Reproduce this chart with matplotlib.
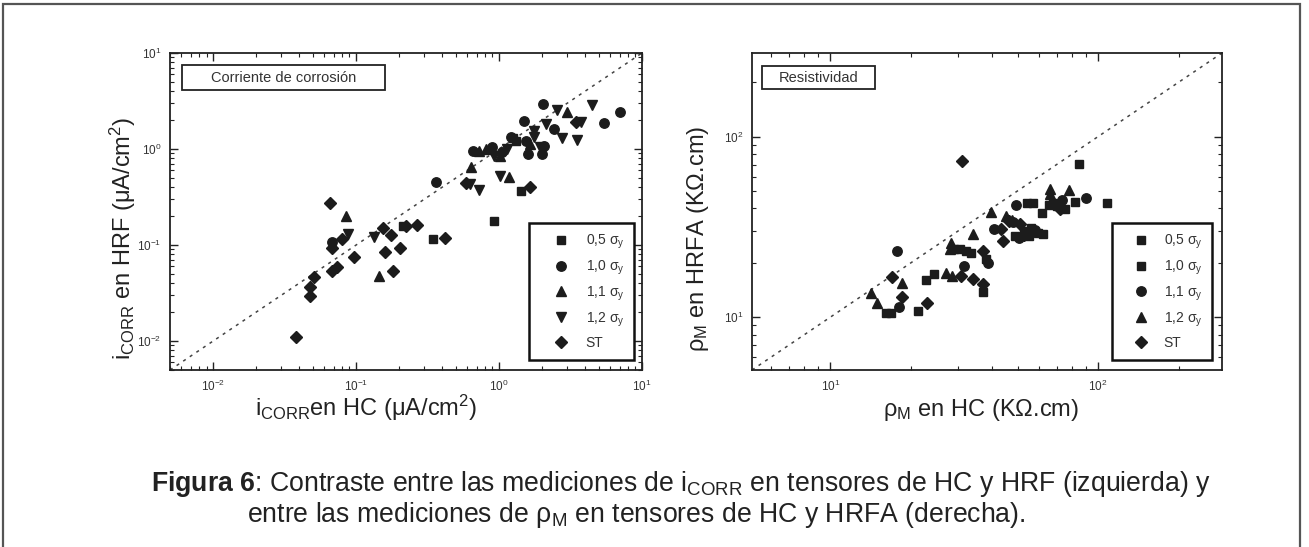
import matplotlib
matplotlib.use('Agg')
import matplotlib.pyplot as plt
from matplotlib.patches import Rectangle
from matplotlib.ticker import LogLocator, LogFormatterSciNotation, NullFormatter

plt.rcParams['font.family'] = ['Liberation Sans', 'DejaVu Sans']
plt.rcParams['mathtext.fontset'] = 'custom'
plt.rcParams['mathtext.rm'] = 'Liberation Sans'
plt.rcParams['mathtext.it'] = 'Liberation Sans:italic'
plt.rcParams['mathtext.bf'] = 'Liberation Sans:bold'

# ---------------- Left panel data: corrosion current (uA/cm2) ----------------
left_labels = ["0,5 σ$_{\\rm y}$", "1,0 σ$_{\\rm y}$", "1,1 σ$_{\\rm y}$", "1,2 σ$_{\\rm y}$", "ST"]
left_markers = ['s', 'o', '^', 'v', 'D']

l05_x = [0.212, 0.343, 0.923, 1.306, 1.416, 1.25]
l05_y = [0.158, 0.1146, 0.178, 1.222, 0.367, 1.30]

l10_x = [0.068, 0.361, 0.662, 0.898, 1.055, 1.206, 1.493, 1.535, 1.60, 2.0, 2.06, 2.04, 2.44, 5.40, 7.07]
l10_y = [0.107, 0.456, 0.961, 1.06, 0.923, 1.324, 1.977, 1.22, 0.887, 0.887, 1.083, 2.95, 1.62, 1.85, 2.42]

l11_x = [0.085, 0.1455, 0.641, 0.724, 0.807, 1.016, 1.175, 1.66, 3.0]
l11_y = [0.201, 0.0474, 0.654, 0.96, 1.0, 0.852, 0.506, 1.128, 2.42]

l12_x = [0.0885, 0.134, 0.628, 0.724, 0.923, 1.016, 1.143, 1.75, 1.75, 1.95, 2.12, 2.55, 2.76, 3.72, 3.52, 4.48]
l12_y = [0.131, 0.121, 0.43, 0.373, 0.852, 0.526, 1.0, 1.324, 1.555, 1.04, 1.825, 2.52, 1.30, 1.90, 1.24, 2.84]

lst_x = [0.0378, 0.048, 0.048, 0.0512, 0.0662, 0.068, 0.068, 0.0735, 0.0794, 0.0973, 0.155, 0.159,
         0.175, 0.182, 0.202, 0.267, 0.420, 0.585, 1.635, 3.43, 0.225]
lst_y = [0.0109, 0.0293, 0.0367, 0.0467, 0.277, 0.094, 0.0543, 0.0589, 0.1146, 0.075, 0.152, 0.085,
         0.126, 0.0535, 0.094, 0.161, 0.119, 0.438, 0.407, 1.90, 0.158]

left_lim = [0.005, 10]

# ---------------- Right panel data: resistivity (KOhm.cm) ----------------
right_labels = ["0,5 σ$_{\\rm y}$", "1,0 σ$_{\\rm y}$", "1,1 σ$_{\\rm y}$", "1,2 σ$_{\\rm y}$", "ST"]
right_markers = ['s', 's', 'o', '^', 'D']

r05_x = [84.5, 107.9, 82.0, 70.5, 61.5, 55.2, 49.0, 29.0, 38.1, 22.7, 37.0, 16.1, 21.2, 75]
r05_y = [70.8, 42.7, 43.6, 41.3, 37.9, 28.1, 28.1, 23.7, 20.9, 16.0, 13.8, 10.6, 10.8, 39.5]

r10_x = [68, 65.5, 57, 54.4, 52.8, 59.6, 30.5, 32, 33.4, 24.3, 16.8, 56, 62]
r10_y = [43, 41.8, 43, 43, 30.0, 29.4, 23.7, 23.3, 22.8, 17.3, 10.6, 31.2, 29.0]

r11_x = [90.4, 73.1, 49.2, 50.5, 40.7, 38.7, 31.5, 17.8, 18.1, 58, 48]
r11_y = [45.9, 44.4, 41.8, 27.5, 30.6, 20.0, 19.2, 23.1, 11.4, 30.2, 33.5]

r12_x = [77.6, 65.9, 65.9, 39.8, 45.4, 34.0, 28.3, 27.9, 27.0, 28.4, 18.5, 14.2, 14.9, 47.5]
r12_y = [50.6, 51.5, 47.9, 38.2, 36.3, 28.7, 25.7, 23.7, 17.6, 17.0, 15.5, 13.6, 12.0, 34.5]

rst_x = [30.9, 72, 46.5, 51.2, 53, 43.4, 44.0, 37.0, 30.8, 34.0, 37.2, 17.0, 18.5, 23.0]
rst_y = [73.3, 39.5, 34.0, 32.7, 28.5, 30.6, 26.4, 23.1, 16.9, 16.2, 15.3, 16.7, 12.9, 12.0]

right_lim = [5.1, 290]

caption1 = r"$\bf{Figura\ 6}$: Contraste entre las mediciones de i$_{\rm CORR}$ en tensores de HC y HRF (izquierda) y"
caption2 = r"entre las mediciones de ρ$_{\rm M}$ en tensores de HC y HRFA (derecha)."

# ---------------- Figure ----------------
W, H = 1309, 547
fig = plt.figure(figsize=(W / 100, H / 100), dpi=100)
fig.patch.set_facecolor('white')

def px_axes(x0, y0, x1, y1):
    return [x0 / W, 1 - y1 / H, (x1 - x0) / W, (y1 - y0) / H]

mcol = '#1c1c1c'
msizes = {'s': 6.2, 'o': 6.8, '^': 7.2, 'v': 7.2, 'D': 6.2}

def style_axes(ax):
    for sp in ax.spines.values():
        sp.set_linewidth(1.3)
        sp.set_color('#222222')
    ax.tick_params(which='both', direction='in', top=True, right=True, colors='#222222',
                   labelsize=8.5, labelcolor='#333333')
    ax.tick_params(which='major', length=6, width=1.0, pad=6)
    ax.tick_params(which='minor', length=3, width=0.8)
    for axis in (ax.xaxis, ax.yaxis):
        axis.set_major_locator(LogLocator(base=10, numticks=10))
        axis.set_minor_locator(LogLocator(base=10, subs=range(2, 10), numticks=20))
        axis.set_major_formatter(LogFormatterSciNotation())
        axis.set_minor_formatter(NullFormatter())

def legend(ax, anchor, hl):
    lg = ax.legend(loc='lower right', bbox_to_anchor=anchor, fontsize=10, frameon=True,
                   fancybox=False, framealpha=1, edgecolor='#111111', borderpad=0.7,
                   handlelength=hl, handletextpad=0.2, labelspacing=0.55, numpoints=1,
                   borderaxespad=0)
    lg.get_frame().set_linewidth(1.8)
    for t in lg.get_texts():
        t.set_color('#333333')

# ---- Left panel ----
axL = fig.add_axes(px_axes(170, 53, 642, 370))
axL.set_xscale('log')
axL.set_yscale('log')
axL.set_xlim(left_lim)
axL.set_ylim(left_lim)
axL.plot(left_lim, left_lim, linestyle=(0, (2.0, 3.2)), color='#444444', lw=1.1, zorder=1)
for xs, ys, m, lab in zip([l05_x, l10_x, l11_x, l12_x, lst_x], [l05_y, l10_y, l11_y, l12_y, lst_y],
                          left_markers, left_labels):
    axL.plot(xs, ys, linestyle='none', marker=m, ms=msizes[m], color=mcol, mec=mcol, label=lab, zorder=3)
style_axes(axL)
legend(axL, (0.983, 0.0315), 3.2)
axL.add_patch(Rectangle((0.0254, 0.883), 0.430, 0.0789, transform=axL.transAxes, fill=True,
                        fc='white', ec='#222222', lw=1.3, zorder=4))
axL.text(0.2405, 0.9227, "Corriente de corrosión", transform=axL.transAxes, ha='center', va='center',
         fontsize=10.5, color='#333333', zorder=5)
axL.set_xlabel(r"i$_{\rm CORR}$en HC (μA/cm$^{\rm 2}$)", fontsize=17, color='#222222', va='center')
axL.xaxis.set_label_coords(0.415, -0.12)
axL.set_ylabel(r"i$_{\rm CORR}$ en HRF (μA/cm$^{\rm 2}$)", fontsize=17, color='#222222', va='center')
axL.yaxis.set_label_coords(-0.0996, 0.416)

# ---- Right panel ----
axR = fig.add_axes(px_axes(752, 53, 1222, 370))
axR.set_xscale('log')
axR.set_yscale('log')
axR.set_xlim(right_lim)
axR.set_ylim(right_lim)
axR.plot(right_lim, right_lim, linestyle=(0, (2.0, 3.2)), color='#444444', lw=1.1, zorder=1)
for xs, ys, m, lab in zip([r05_x, r10_x, r11_x, r12_x, rst_x], [r05_y, r10_y, r11_y, r12_y, rst_y],
                          right_markers, right_labels):
    axR.plot(xs, ys, linestyle='none', marker=m, ms=msizes[m], color=mcol, mec=mcol, label=lab, zorder=3)
style_axes(axR)
legend(axR, (0.979, 0.0315), 2.8)
axR.add_patch(Rectangle((0.021, 0.886), 0.240, 0.0726, transform=axR.transAxes, fill=True,
                        fc='white', ec='#222222', lw=1.3, zorder=4))
axR.text(0.1415, 0.9227, "Resistividad", transform=axR.transAxes, ha='center', va='center',
         fontsize=10.5, color='#333333', zorder=5)
axR.set_xlabel(r"ρ$_{\rm M}$ en HC (KΩ.cm)", fontsize=17, color='#222222', va='center')
axR.xaxis.set_label_coords(0.487, -0.126)
axR.set_ylabel(r"ρ$_{\rm M}$ en HRFA (KΩ.cm)", fontsize=17, color='#222222', va='center')
axR.yaxis.set_label_coords(-0.115, 0.413)

# ---- Caption ----
fig.text(681 / W, 1 - 484 / H, caption1, ha='center', va='center', fontsize=19.2, color='#222222')
fig.text(636 / W, 1 - 515 / H, caption2, ha='center', va='center', fontsize=19.2, color='#222222')

# ---- Outer frame ----
fig.add_artist(Rectangle((3 / W, -0.05), (1300 - 3) / W, 1.05 - 4 / H, transform=fig.transFigure,
                         fill=False, ec='#555555', lw=1.6))

fig.savefig('out.png', dpi=100, facecolor='white')
